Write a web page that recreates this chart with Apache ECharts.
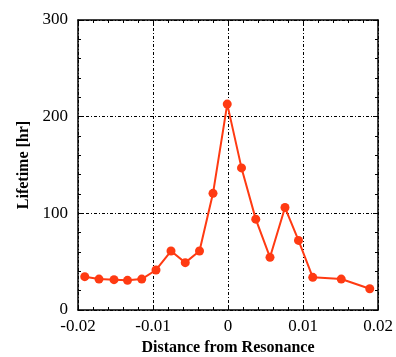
<!DOCTYPE html>
<html>
<head>
<meta charset="utf-8">
<script src="https://cdn.jsdelivr.net/npm/echarts@6/dist/echarts.min.js"></script>
<style>
  html, body { margin: 0; padding: 0; background: #fff; }
  #chart { width: 396px; height: 357px; }
</style>
</head>
<body>
<div id="chart"></div>
<script>
// detuning (distance from resonance) and measured lifetime
const distance = [-0.0191, -0.0172, -0.0152, -0.0134, -0.0115, -0.0096, -0.0076, -0.0057,
  -0.0038, -0.0020, -0.0001, 0.0018, 0.0037, 0.0056, 0.0076, 0.0094, 0.0113, 0.0151, 0.0189];
const lifetime = [34.5, 32, 31.4, 30.7, 32, 41.4, 61, 49, 61, 120.7, 213, 147, 94, 54.5, 106, 72, 33.8, 32, 22];

const points = distance.map((x, i) => [x, lifetime[i]]);

const serif = '"Liberation Serif", "DejaVu Serif", serif';
const gridDash = { color: '#000', width: 1, type: [3, 2, 1, 2] };

const chart = echarts.init(document.getElementById('chart'));

const baseAxis = {
  axisLine: { show: true, onZero: false, lineStyle: { color: '#000', width: 1.5 } },
  axisTick: { show: true, inside: true, length: 5, lineStyle: { color: '#000' } },
  minorTick: { show: true, splitNumber: 5, length: 3, lineStyle: { color: '#000' } },
};

chart.setOption({
  animation: false,
  grid: { left: 78, right: 18, top: 20, bottom: 47, outerBoundsMode: 'none' },
  xAxis: [
    {
      ...baseAxis,
      type: 'value',
      min: -0.02, max: 0.02, interval: 0.01,
      name: 'Distance from Resonance',
      nameLocation: 'middle',
      nameGap: 29,
      nameTextStyle: { fontFamily: serif, fontSize: 16, fontWeight: 'bold', color: '#000' },
      axisLabel: { fontFamily: serif, fontSize: 17, color: '#000', margin: 8 },
      splitLine: { show: true, lineStyle: gridDash },
    },
    {
      ...baseAxis,
      type: 'value', position: 'top',
      min: -0.02, max: 0.02, interval: 0.01,
      axisLabel: { show: false },
      splitLine: { show: false },
    },
  ],
  yAxis: [
    {
      ...baseAxis,
      type: 'value',
      min: 0, max: 300, interval: 100,
      name: 'Lifetime [hr]',
      nameLocation: 'middle',
      nameGap: 46,
      nameTextStyle: { fontFamily: serif, fontSize: 16, fontWeight: 'bold', color: '#000' },
      axisLabel: { fontFamily: serif, fontSize: 17, color: '#000', margin: 10 },
      splitLine: { show: true, lineStyle: gridDash },
    },
    {
      ...baseAxis,
      type: 'value', position: 'right',
      min: 0, max: 300, interval: 100,
      axisLabel: { show: false },
      splitLine: { show: false },
    },
  ],
  series: [
    {
      type: 'line',
      data: points,
      color: '#ff3a12',
      lineStyle: { width: 2 },
      symbol: 'circle',
      symbolSize: 9,
      itemStyle: { color: '#ff3a12' },
    },
  ],
});
</script>
</body>
</html>
